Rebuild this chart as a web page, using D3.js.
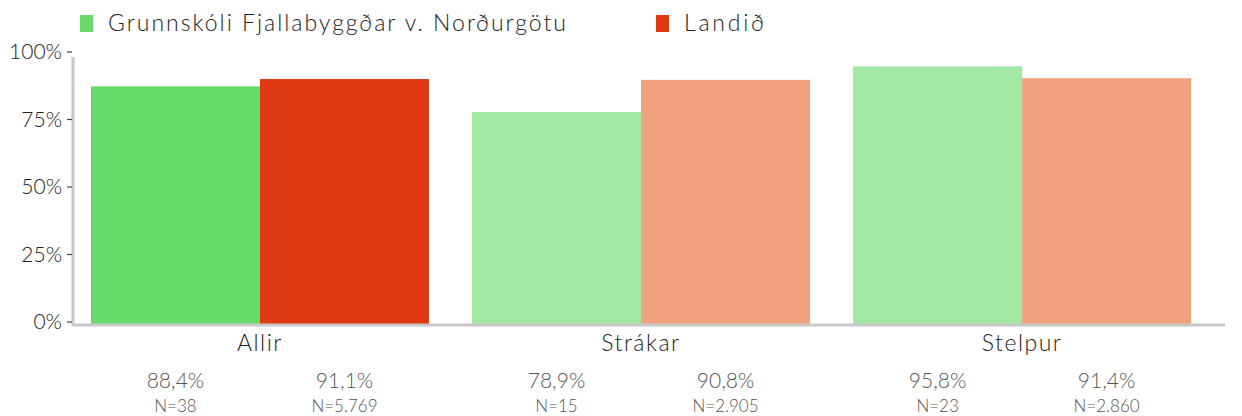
<!DOCTYPE html>
<html>
<head>
<meta charset="utf-8">
<script src="https://cdn.jsdelivr.net/npm/d3@7"></script>
<style>
  body { margin: 0; background: #fff; }
  text { font-family: Lato, 'Open Sans', sans-serif; font-weight: 300; }
</style>
</head>
<body>
<div id="chart"></div>
<script>
const categories = ['Allir', 'Strákar', 'Stelpur']
const seriesNames = ['Grunnskóli Fjallabyggðar v. Norðurgötu', 'Landið']
const schoolValues = [88.4, 78.9, 95.8]
const countryValues = [91.1, 90.8, 91.4]
const schoolN = ['38', '15', '23']
const countryN = ['5.769', '2.905', '2.860']
const yTicks = [0, 25, 50, 75, 100]

// first group uses strong colours, the others faded ones
const fills = [
  ['#66db6a', '#df3a12'],
  ['#a3e9a4', '#efa27d'],
  ['#a3e9a4', '#efa27d']
]

const chartWidth = 1242
const chartHeight = 416
const plotLeft = 73
const plotRight = 1225
const plotTop = 55
const plotBottom = 325

const svg = d3.select('#chart')
  .append('svg')
  .attr('width', chartWidth)
  .attr('height', chartHeight)

const x = d3.scaleBand()
  .domain(categories)
  .range([plotLeft, plotRight])
  .paddingInner(0.113)
  .paddingOuter(0.068)
  .align(0.346)

const x1 = d3.scaleBand()
  .domain([0, 1])
  .range([0, x.bandwidth()])

const y = d3.scaleLinear().domain([0, 100]).range([plotBottom, plotTop])

const rows = categories.map((c, i) => ({
  cat: c,
  vals: [schoolValues[i], countryValues[i]],
  ns: [schoolN[i], countryN[i]],
  idx: i
}))

// bars
const groups = svg.selectAll('.group')
  .data(rows)
  .enter()
  .append('g')
  .attr('class', 'group')
  .attr('transform', (d) => `translate(${x(d.cat)}, 0)`)

groups.selectAll('rect')
  .data((d) => d.vals.map((v, j) => ({ v, j, idx: d.idx })))
  .enter()
  .append('rect')
  .attr('x', (d) => x1(d.j))
  .attr('y', (d) => y(d.v))
  .attr('width', x1.bandwidth())
  .attr('height', (d) => plotBottom - y(d.v))
  .attr('fill', (d) => fills[d.idx][d.j])

// axes lines
svg.append('line')
  .attr('x1', plotLeft).attr('x2', plotLeft)
  .attr('y1', plotTop + 2).attr('y2', plotBottom)
  .attr('stroke', '#c8c8c8').attr('stroke-width', 3)
svg.append('line')
  .attr('x1', plotLeft - 1.5).attr('x2', plotRight)
  .attr('y1', plotBottom).attr('y2', plotBottom)
  .attr('stroke', '#c8c8c8').attr('stroke-width', 3)

// y ticks
const yAxis = svg.append('g').attr('class', 'y-axis')
yAxis.selectAll('line')
  .data(yTicks)
  .enter()
  .append('line')
  .attr('x1', 67).attr('x2', 72)
  .attr('y1', (d) => y(d) - 3).attr('y2', (d) => y(d) - 3)
  .attr('stroke', '#444').attr('stroke-width', 1.2)
yAxis.selectAll('text')
  .data(yTicks)
  .enter()
  .append('text')
  .attr('x', 62)
  .attr('y', (d) => y(d) + 4)
  .attr('text-anchor', 'end')
  .attr('font-size', 21)
  .attr('fill', '#222')
  .text((d) => d + '%')

// category labels
svg.selectAll('.cat')
  .data(categories)
  .enter()
  .append('text')
  .attr('class', 'cat')
  .attr('x', (d) => x(d) + x.bandwidth() / 2)
  .attr('y', 351)
  .attr('text-anchor', 'middle')
  .attr('font-size', 23)
  .attr('fill', '#222')
  .style('letter-spacing', '1.5px')
  .text((d) => d)

// value and N labels under each bar
const labels = groups.selectAll('.lab')
  .data((d) => d.vals.map((v, j) => ({ v, j, n: d.ns[j] })))
  .enter()
  .append('g')
  .attr('class', 'lab')
  .attr('transform', (d) => `translate(${x1(d.j) + x1.bandwidth() / 2}, 0)`)
labels.append('text')
  .attr('y', 388)
  .attr('text-anchor', 'middle')
  .attr('font-size', 21)
  .attr('fill', '#555')
  .text((d) => d3.format('.1f')(d.v).replace('.', ',') + '%')
labels.append('text')
  .attr('y', 412)
  .attr('text-anchor', 'middle')
  .attr('font-size', 17)
  .attr('fill', '#555')
  .text((d) => 'N=' + d.n)

// legend
const legendX = [80, 656]
const legendLen = [458, 80]
const legend = svg.selectAll('.legend')
  .data(seriesNames)
  .enter()
  .append('g')
  .attr('class', 'legend')
  .attr('transform', (d, i) => `translate(${legendX[i]}, 0)`)
legend.append('rect')
  .attr('x', 0).attr('y', 15)
  .attr('width', 13).attr('height', 17)
  .attr('fill', (d, i) => fills[0][i])
legend.append('text')
  .attr('x', 28).attr('y', 31)
  .attr('font-size', 23)
  .attr('fill', '#222')
  .attr('textLength', (d, i) => legendLen[i])
  .attr('lengthAdjust', 'spacing')
  .text((d) => d)
</script>
</body>
</html>
